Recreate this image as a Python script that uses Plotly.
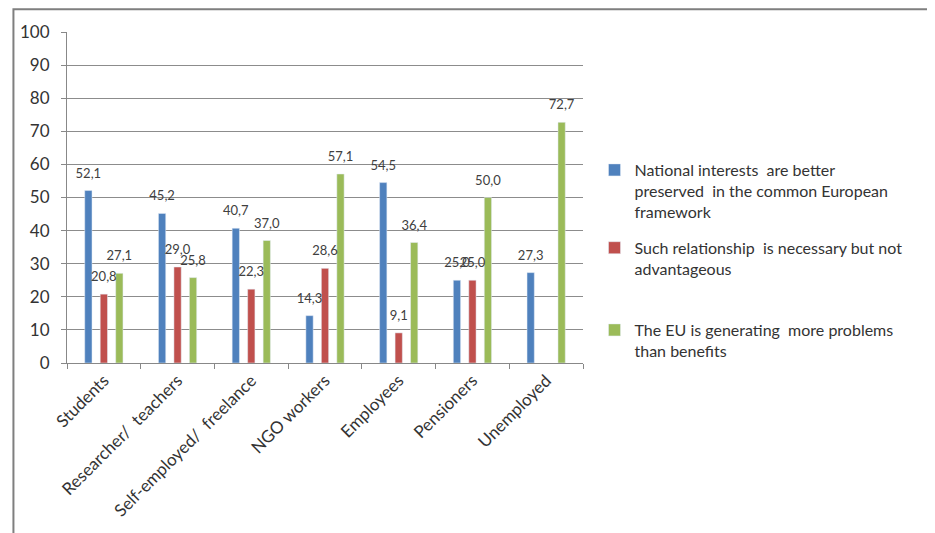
import plotly.graph_objects as go

categories = ["Students", "Researcher/  teachers", "Self-employed/  freelance", "NGO workers",
              "Employees", "Pensioners", "Unemployed"]
national = [52.1, 45.2, 40.7, 14.3, 54.5, 25.0, 27.3]
necessary = [20.8, 29.0, 22.3, 28.6, 9.1, 25.0, None]
problems = [27.1, 25.8, 37.0, 57.1, 36.4, 50.0, 72.7]

names = [
    "National interests  are better<br>preserved  in the common European<br>framework",
    "Such relationship  is necessary but not<br>advantageous",
    "The EU is generating  more problems<br>than benefits",
]
colors = ["#4F81BD", "#C0504D", "#9BBB59"]
series = [national, necessary, problems]
legends = ["legend", "legend2", "legend3"]

FONT = "Lato, 'Liberation Sans', sans-serif"

def fmt(v):
    return "" if v is None else f"{v:.1f}".replace(".", ",")

fig = go.Figure()
for vals, name, col, lg in zip(series, names, colors, legends):
    fig.add_trace(go.Bar(
        x=categories, y=vals, name=name, marker_color=col,
        legend=lg, hoverinfo="skip",
    ))
# data labels, grouped so they sit over their bars
for vals in series:
    fig.add_trace(go.Scatter(
        x=categories, y=vals, mode="markers+text",
        text=[fmt(v) for v in vals], textposition="top center",
        textfont=dict(family=FONT, size=13, color="#404040"),
        marker=dict(size=14, opacity=0), showlegend=False,
        cliponaxis=False, hoverinfo="skip",
    ))

leg_common = dict(font=dict(family=FONT, size=16, color="#333333"),
                  xanchor="left", yanchor="top", bgcolor="rgba(0,0,0,0)",
                  valign="top", itemclick=False)
fig.update_layout(
    width=927, height=525,
    margin=dict(l=55, r=352, t=24, b=168),
    paper_bgcolor="white", plot_bgcolor="white",
    barmode="group", bargap=0.37, bargroupgap=0.53,
    scattermode="group",
    font=dict(family=FONT, color="#333333"),
    legend=dict(x=1.0223, y=0.6345, **leg_common),
    legend2=dict(x=1.0223, y=0.3994, **leg_common),
    legend3=dict(x=1.0223, y=0.151, **leg_common),
    showlegend=True,
    xaxis=dict(
        tickangle=-45, tickson="boundaries", ticks="outside", ticklen=5,
        tickcolor="#888888", showline=True, linecolor="#888888", linewidth=1,
        tickfont=dict(family=FONT, size=17, color="#333333"),
        showgrid=False,
    ),
    yaxis=dict(
        range=[0, 100], dtick=10, ticks="outside", ticklen=5, tickcolor="#888888",
        ticklabelstandoff=8,
        showline=True, linecolor="#888888", linewidth=1,
        showgrid=True, gridcolor="#8c8c8c", gridwidth=1, zeroline=False,
        tickfont=dict(family=FONT, size=17, color="#333333"),
    ),
    shapes=[dict(type="rect", xref="paper", yref="paper",
                 x0=-0.1038, x1=2.0, y0=-1.0, y1=1.069,
                 line=dict(color="#7f7f7f", width=2), layer="below")],
)

fig.write_html("out.html")
